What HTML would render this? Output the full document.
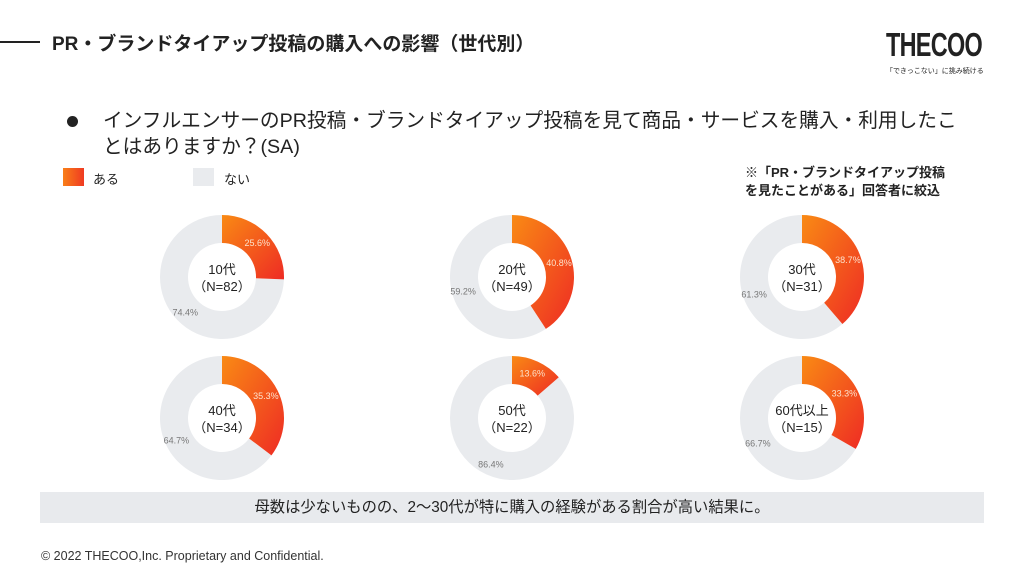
<!DOCTYPE html>
<html><head><meta charset="utf-8"><style>
body{margin:0;width:1024px;height:576px;background:#fff;overflow:hidden;font-family:"Liberation Sans","Noto Sans CJK JP",sans-serif;color:#222;position:relative}
.a{position:absolute;white-space:nowrap}
</style></head><body>
<div class="a" style="left:0;top:41px;width:40px;height:2px;background:#222"></div>
<div class="a" style="left:52px;top:29px;font-size:19px;font-weight:bold">PR・ブランドタイアップ投稿の購入への影響（世代別）</div>
<div class="a" style="left:886px;top:26px;font-size:33px;font-weight:bold;letter-spacing:-1px;transform:scaleX(0.71);transform-origin:left;font-family:'Liberation Sans Narrow','Liberation Sans',sans-serif">THECOO</div>
<div class="a" style="left:886px;top:66px;font-size:7px">「できっこない」に挑み続ける</div>
<div class="a" style="left:67px;top:116px;width:11px;height:11px;border-radius:50%;background:#222"></div>
<div class="a" style="left:103px;top:108px;font-size:19.7px;line-height:26px">インフルエンサーのPR投稿・ブランドタイアップ投稿を見て商品・サービスを購入・利用したこ<br>とはありますか？(SA)</div>
<div class="a" style="left:63px;top:168px;width:21px;height:18px;background:linear-gradient(90deg,#f97f18,#ef3a22)"></div>
<div class="a" style="left:93px;top:169px;font-size:13px">ある</div>
<div class="a" style="left:193px;top:168px;width:21px;height:18px;background:#e9ebee"></div>
<div class="a" style="left:224px;top:169px;font-size:13px">ない</div>
<div class="a" style="left:745px;top:164px;font-size:13px;font-weight:bold;line-height:18px">※「PR・ブランドタイアップ投稿<br>を見たことがある」回答者に絞込</div>
<svg id="chart" class="a" style="left:0;top:0" width="1024" height="576">
<defs><linearGradient id="g" x1="0" y1="0" x2="1" y2="1"><stop offset="0" stop-color="#f98a14"/><stop offset="1" stop-color="#ee2b24"/></linearGradient></defs>
</svg>
<div class="a" style="left:40px;top:492px;width:944px;height:31px;background:#e8eaed;text-align:center;line-height:31px;font-size:15.3px">母数は少ないものの、2〜30代が特に購入の経験がある割合が高い結果に。</div>
<div class="a" style="left:41px;top:549px;font-size:12.5px;color:#333">© 2022 THECOO,Inc. Proprietary and Confidential.</div>
<script>
const groups=["10代","20代","30代","40代","50代","60代以上"];
const counts=[82,49,31,34,22,15];
const yesPct=[25.6,40.8,38.7,35.3,13.6,33.3];
const noPct=[74.4,59.2,61.3,64.7,86.4,66.7];
const svg=document.getElementById('chart');
const NS='http://www.w3.org/2000/svg';
const cx=[222,512,802],cy=[277,418],R=62,r=34,LR=49;
function pt(cX,cY,rad,f){const a=f*2*Math.PI;return [cX+rad*Math.sin(a),cY-rad*Math.cos(a)];}
function arc(cX,cY,f0,f1){const L=(f1-f0)>0.5?1:0;const p0=pt(cX,cY,R,f0),p1=pt(cX,cY,R,f1),q1=pt(cX,cY,r,f1),q0=pt(cX,cY,r,f0);
return `M${p0} A${R},${R} 0 ${L} 1 ${p1} L${q1} A${r},${r} 0 ${L} 0 ${q0} Z`;}
function el(t,at){const e=document.createElementNS(NS,t);for(const k in at)e.setAttribute(k,at[k]);svg.appendChild(e);return e;}
groups.forEach((g,i)=>{
 const X=cx[i%3],Y=cy[Math.floor(i/3)];
 const y=yesPct[i]/100, tot=(yesPct[i]+noPct[i])/100;
 const n=el('path',{d:arc(X,Y,y,tot-0.0001),fill:'#e9ebee'});
 
 
 const s=el('path',{d:arc(X,Y,0,y),fill:'url(#g)'});
 
 
 const p1=pt(X,Y,LR,y/2);
 const t1=el('text',{x:p1[0],y:p1[1]+3,'text-anchor':'middle','font-size':9,fill:'#fde2cc'});t1.textContent=yesPct[i].toFixed(1)+'%';
 
 
 const p2=pt(X,Y,LR+2,y+(tot-y)/2);
 const t2=el('text',{x:p2[0],y:p2[1]+3,'text-anchor':'middle','font-size':9,fill:'#777'});t2.textContent=noPct[i].toFixed(1)+'%';
 
 
 const c1=el('text',{x:X,y:Y-3,'text-anchor':'middle','font-size':13,fill:'#222'});c1.textContent=g;
 
 
 const c2=el('text',{x:X,y:Y+14,'text-anchor':'middle','font-size':13,fill:'#222'});c2.textContent='（N='+counts[i]+'）';
 
 
});
</script>
</body></html>
